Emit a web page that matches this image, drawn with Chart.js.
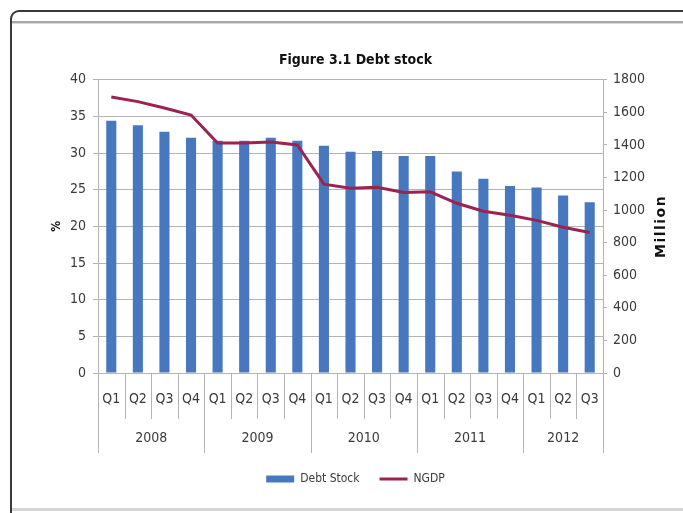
<!DOCTYPE html>
<html>
<head>
<meta charset="utf-8">
<script src="https://cdn.jsdelivr.net/npm/chart.js@4/dist/chart.umd.min.js"></script>
<style>
  html, body { margin: 0; padding: 0; background: #ffffff; }
  body { width: 683px; height: 513px; position: relative; overflow: hidden; }
  #frame { position: absolute; left: 10px; top: 10px; width: 720px; height: 520px;
           border-left: 2px solid #3a3a3a; border-top: 2px solid #3a3a3a; border-top-left-radius: 9px; }
  #band { position: absolute; left: 12px; top: 21px; width: 700px; height: 2px; background: #a8a8a8; }
  #band2 { position: absolute; left: 12px; top: 23px; width: 700px; height: 1px; background: #d8d8d8; }
  #foot { position: absolute; left: 12px; top: 508px; width: 700px; height: 3px; background: #d4d4d4; }
  #wrap { position: absolute; left: 0; top: 0; width: 683px; height: 513px; }
</style>
</head>
<body>
<div id="frame"></div>
<div id="band"></div>
<div id="band2"></div>
<div id="foot"></div>
<div id="wrap"><canvas id="c" width="683" height="513"></canvas></div>
<script>
// ---- data ----
const quarters = ['Q1','Q2','Q3','Q4','Q1','Q2','Q3','Q4','Q1','Q2','Q3','Q4','Q1','Q2','Q3','Q4','Q1','Q2','Q3'];
const years = ['2008','2009','2010','2011','2012'];
const quartersPerYear = [4, 4, 4, 4, 3];
const debtStock = [34.4, 33.8, 32.9, 32.1, 31.7, 31.7, 32.1, 31.7, 31.0, 30.2, 30.3, 29.6, 29.6, 27.5, 26.5, 25.5, 25.3, 24.2, 23.3];
const ngdp = [1695, 1666, 1627, 1584, 1412, 1412, 1418, 1400, 1159, 1134, 1140, 1108, 1112, 1042, 993, 968, 937, 895, 863];
const leftTicks = [0, 5, 10, 15, 20, 25, 30, 35, 40];
const rightTicks = [0, 200, 400, 600, 800, 1000, 1200, 1400, 1600, 1800];
const titleText = 'Figure 3.1 Debt stock';
const leftAxisTitle = '%';
const rightAxisTitle = 'Million';
const seriesNames = ['Debt Stock', 'NGDP'];

const FONT = '"Liberation Sans Narrow", "Arial Narrow", "DejaVu Sans Condensed", sans-serif';
const TXT = '#3a3a3a';
const GRID = '#b4b4b4';

const decor = {
  id: 'decor',
  afterDraw(chart) {
    const { ctx, scales: { x, y1 } } = chart;
    const base = x.top;
    const half = (x.getPixelForTick(1) - x.getPixelForTick(0)) / 2;
    const yearBounds = new Set();
    let acc = 0;
    yearBounds.add(0);
    quartersPerYear.forEach(n => { acc += n; yearBounds.add(acc); });
    ctx.save();
    ctx.strokeStyle = GRID;
    ctx.lineWidth = 1;
    for (let i = 0; i <= quarters.length; i++) {
      const px = i < quarters.length ? x.getPixelForTick(i) - half : x.getPixelForTick(i - 1) + half;
      const len = yearBounds.has(i) ? 80 : 46;
      const xx = Math.round(px) + 0.5;
      ctx.beginPath();
      ctx.moveTo(xx, base);
      ctx.lineTo(xx, base + len);
      ctx.stroke();
    }
    // year labels
    ctx.fillStyle = TXT;
    ctx.font = '14px ' + FONT;
    ctx.textAlign = 'center';
    ctx.textBaseline = 'middle';
    let start = 0;
    years.forEach((yr, k) => {
      const end = start + quartersPerYear[k] - 1;
      const cx = (x.getPixelForTick(start) + x.getPixelForTick(end)) / 2;
      ctx.fillText(yr, cx, base + 65);
      start = end + 1;
    });
    // right axis title (reads bottom to top)
    ctx.translate(y1.right - 10, (y1.top + y1.bottom) / 2);
    ctx.rotate(-Math.PI / 2);
    ctx.font = 'bold 14px "DejaVu Sans", sans-serif';
    ctx.fillStyle = '#111';
    try { ctx.letterSpacing = '1.5px'; } catch (e) {}
    ctx.fillText(rightAxisTitle, 0, 0);
    ctx.restore();
  }
};

new Chart(document.getElementById('c'), {
  data: {
    labels: quarters,
    datasets: [
      {
        type: 'line', label: seriesNames[1], data: ngdp, yAxisID: 'y1',
        borderColor: '#9a2351', backgroundColor: '#9a2351', borderWidth: 3,
        pointRadius: 0, pointStyle: 'line', tension: 0, order: 0
      },
      {
        type: 'bar', label: seriesNames[0], data: debtStock, yAxisID: 'y',
        backgroundColor: '#4778bf', borderWidth: 0, pointStyle: 'rect',
        categoryPercentage: 1.0, barPercentage: 0.38, order: 1
      }
    ]
  },
  options: {
    responsive: false,
    animation: false,
    layout: { padding: { left: 40, right: 12, top: 0, bottom: 18 } },
    plugins: {
      title: {
        display: true, text: titleText, color: '#111',
        font: { family: FONT, size: 14, weight: 'bold' },
        padding: { top: 52, bottom: 11 }
      },
      legend: {
        position: 'bottom',
        reverse: true,
        labels: {
          usePointStyle: true, pointStyleWidth: 28, boxHeight: 7,
          padding: 20, color: TXT,
          font: { family: FONT, size: 12 }
        }
      },
      tooltip: { enabled: false }
    },
    scales: {
      x: {
        type: 'category', offset: true,
        grid: { display: false },
        border: { display: true, color: GRID, width: 1 },
        ticks: { color: TXT, font: { family: FONT, size: 14 }, padding: 10, maxRotation: 0, autoSkip: false },
        afterFit(s) { s.height = 80; }
      },
      y: {
        position: 'left', min: 0, max: 40,
        afterBuildTicks(s) { s.ticks = leftTicks.map(v => ({ value: v })); },
        grid: { color: GRID, tickLength: 5, drawTicks: true },
        border: { display: true, color: GRID },
        ticks: { color: TXT, font: { family: FONT, size: 14 }, padding: 7 },
        title: { display: true, text: leftAxisTitle, color: '#111', font: { family: FONT, size: 12, weight: 'bold' }, padding: { top: 10, bottom: 0 } },
        afterFit(s) { s.width = 58; }
      },
      y1: {
        position: 'right', min: 0, max: 1800,
        afterBuildTicks(s) { s.ticks = rightTicks.map(v => ({ value: v })); },
        grid: { drawOnChartArea: false, color: GRID, tickLength: 4, drawTicks: true },
        border: { display: true, color: GRID },
        ticks: { color: TXT, font: { family: FONT, size: 14 }, padding: 6, callback: v => String(v) },
        afterFit(s) { s.width = 68; }
      }
    }
  },
  plugins: [decor]
});
</script>
</body>
</html>
